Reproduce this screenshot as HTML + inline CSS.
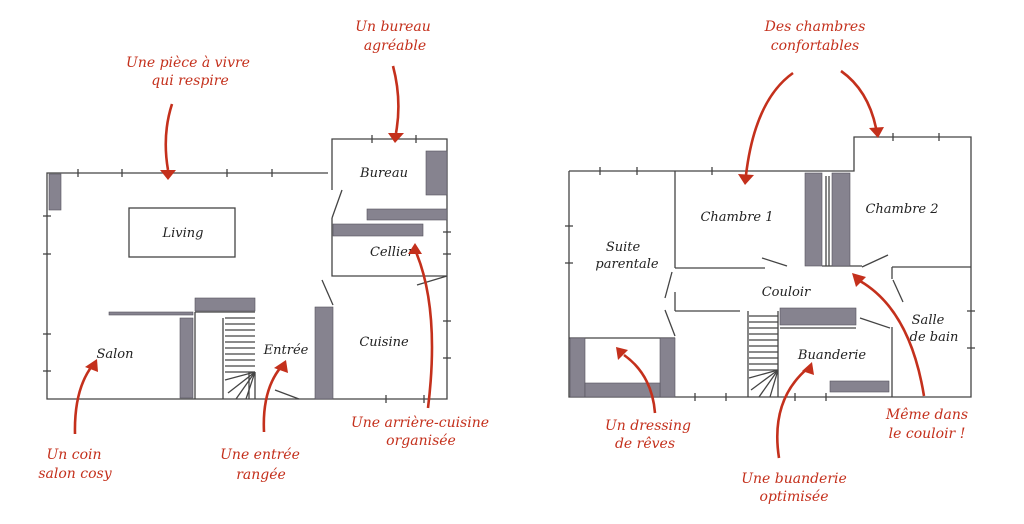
<!DOCTYPE html>
<html><head><meta charset="utf-8"><style>
html,body{margin:0;padding:0;background:#fff;}
svg{display:block;}
.w{stroke:#444;stroke-width:1.3;fill:none;}
.g{fill:#86838f;stroke:#55535c;stroke-width:0.6;}
.r{stroke:#c4301c;stroke-width:2.6;fill:none;}
.ah{fill:#c4301c;}
.lbl{font-family:"DejaVu Serif","Liberation Serif",serif;font-style:italic;font-size:14px;fill:#c4301c;text-anchor:middle;}
.rm{font-family:"DejaVu Serif","Liberation Serif",serif;font-style:italic;font-size:13px;fill:#222;text-anchor:middle;}
</style></head><body>
<svg width="1024" height="524" viewBox="0 0 1024 524" xmlns="http://www.w3.org/2000/svg">
<rect width="1024" height="524" fill="#fff"/>
<!-- LEFT PLAN -->
<g class="w">
<polyline points="328,173 47,173 47,399 447,399 447,139 332,139 332,190"/>
<line x1="342" y1="190" x2="332" y2="218"/>
<polyline points="332,218 332,276 447,276"/>
<line x1="417" y1="285" x2="447" y2="276"/>
<line x1="322" y1="280" x2="333" y2="305"/>
<rect x="129" y="208" width="106" height="49"/>
<line x1="109" y1="314" x2="193" y2="314"/>
<polyline points="195,312 255,312"/>
<line x1="195" y1="312" x2="195" y2="399"/>
<line x1="223" y1="318" x2="223" y2="399"/>
<line x1="255" y1="372" x2="255" y2="399"/>
<line x1="249" y1="372" x2="249" y2="399"/>
<line x1="275" y1="390" x2="299" y2="399"/>
<!-- ticks -->
<line x1="78" y1="169" x2="78" y2="177"/><line x1="122" y1="169" x2="122" y2="177"/>
<line x1="227" y1="169" x2="227" y2="177"/><line x1="272" y1="169" x2="272" y2="177"/>
<line x1="43" y1="216" x2="51" y2="216"/><line x1="43" y1="254" x2="51" y2="254"/>
<line x1="43" y1="334" x2="51" y2="334"/><line x1="43" y1="371" x2="51" y2="371"/>
<line x1="372" y1="135" x2="372" y2="143"/><line x1="416" y1="135" x2="416" y2="143"/>
<line x1="443" y1="232" x2="451" y2="232"/><line x1="443" y1="254" x2="451" y2="254"/>
<line x1="443" y1="321" x2="451" y2="321"/><line x1="443" y1="358" x2="451" y2="358"/>
<line x1="386" y1="395" x2="386" y2="403"/><line x1="424" y1="395" x2="424" y2="403"/>
</g>
<g class="w" stroke-width="1">
<line x1="225" y1="318" x2="255" y2="318"/><line x1="225" y1="324" x2="255" y2="324"/>
<line x1="225" y1="330" x2="255" y2="330"/><line x1="225" y1="336" x2="255" y2="336"/>
<line x1="225" y1="342" x2="255" y2="342"/><line x1="225" y1="348" x2="255" y2="348"/>
<line x1="225" y1="354" x2="255" y2="354"/><line x1="225" y1="360" x2="255" y2="360"/>
<line x1="225" y1="366" x2="255" y2="366"/><line x1="225" y1="372" x2="255" y2="372"/>
<line x1="255" y1="372" x2="225" y2="380"/><line x1="255" y1="372" x2="228" y2="393"/>
<line x1="255" y1="372" x2="236" y2="399"/><line x1="255" y1="372" x2="246" y2="399"/>
</g>
<g class="g">
<rect x="49" y="174" width="12" height="36"/>
<rect x="426" y="151" width="21" height="44"/>
<rect x="367" y="209" width="80" height="11"/>
<rect x="333" y="224" width="90" height="12"/>
<rect x="195" y="298" width="60" height="13"/>
<rect x="180" y="318" width="13" height="80"/>
<rect x="315" y="307" width="18" height="92"/>
<rect x="109" y="312" width="84" height="3"/>
</g>
<text class="rm" x="384" y="177">Bureau</text>
<text class="rm" x="183" y="237">Living</text>
<text class="rm" x="392" y="256">Cellier</text>
<text class="rm" x="115" y="358">Salon</text>
<text class="rm" x="286" y="354">Entrée</text>
<text class="rm" x="384" y="346">Cuisine</text>

<!-- RIGHT PLAN -->
<g class="w">
<polyline points="569,171 854,171 854,137 971,137 971,397 569,397 569,171"/>
<line x1="675" y1="171" x2="675" y2="268"/>
<line x1="675" y1="268" x2="765" y2="268"/>
<line x1="787" y1="266" x2="762" y2="258"/>
<line x1="862" y1="267" x2="888" y2="255"/>
<line x1="822" y1="266" x2="862" y2="266"/>
<line x1="672" y1="272" x2="665" y2="298"/>
<line x1="665" y1="310" x2="675" y2="336"/>
<line x1="675" y1="292" x2="675" y2="311"/>
<line x1="675" y1="311" x2="740" y2="311"/>
<line x1="569" y1="338" x2="675" y2="338"/>
<polyline points="892,267 971,267"/>
<line x1="892" y1="267" x2="892" y2="279"/>
<line x1="893" y1="280" x2="903" y2="302"/>
<line x1="892" y1="327" x2="892" y2="397"/>
<line x1="860" y1="318" x2="890" y2="328"/>
<line x1="780" y1="328" x2="856" y2="328"/>
<line x1="748" y1="311" x2="748" y2="397"/>
<line x1="778" y1="311" x2="778" y2="397"/>
<line x1="600" y1="167" x2="600" y2="175"/><line x1="637" y1="167" x2="637" y2="175"/>
<line x1="712" y1="167" x2="712" y2="175"/>
<line x1="893" y1="133" x2="893" y2="141"/><line x1="939" y1="133" x2="939" y2="141"/>
<line x1="565" y1="226" x2="573" y2="226"/><line x1="565" y1="263" x2="573" y2="263"/>
<line x1="967" y1="311" x2="975" y2="311"/><line x1="967" y1="348" x2="975" y2="348"/>
<line x1="695" y1="393" x2="695" y2="401"/><line x1="726" y1="393" x2="726" y2="401"/>
<line x1="795" y1="393" x2="795" y2="401"/><line x1="826" y1="393" x2="826" y2="401"/>
<line x1="826" y1="176" x2="826" y2="266"/><line x1="829" y1="176" x2="829" y2="266"/>
</g>
<g class="w" stroke-width="1">
<line x1="749" y1="316" x2="778" y2="316"/><line x1="749" y1="322" x2="778" y2="322"/>
<line x1="749" y1="328" x2="778" y2="328"/><line x1="749" y1="334" x2="778" y2="334"/>
<line x1="749" y1="340" x2="778" y2="340"/><line x1="749" y1="346" x2="778" y2="346"/>
<line x1="749" y1="352" x2="778" y2="352"/><line x1="749" y1="358" x2="778" y2="358"/>
<line x1="749" y1="364" x2="778" y2="364"/><line x1="749" y1="370" x2="778" y2="370"/>
<line x1="778" y1="370" x2="749" y2="378"/><line x1="778" y1="370" x2="751" y2="390"/>
<line x1="778" y1="370" x2="759" y2="397"/><line x1="778" y1="370" x2="770" y2="397"/>
</g>
<g class="g">
<rect x="805" y="173" width="17" height="93"/>
<rect x="832" y="173" width="18" height="93"/>
<rect x="780" y="308" width="76" height="17"/>
<rect x="830" y="381" width="59" height="11"/>
<rect x="570" y="338" width="15" height="59"/>
<rect x="660" y="338" width="15" height="59"/>
<rect x="585" y="383" width="75" height="14"/>
</g>
<text class="rm" x="737" y="221">Chambre 1</text>
<text class="rm" x="902" y="213">Chambre 2</text>
<text class="rm" x="623" y="251">Suite</text>
<text class="rm" x="627" y="268">parentale</text>
<text class="rm" x="786" y="296">Couloir</text>
<text class="rm" x="928" y="324">Salle</text>
<text class="rm" x="934" y="341">de bain</text>
<text class="rm" x="832" y="359">Buanderie</text>

<!-- ARROWS -->
<g class="r">
<path d="M172,104 Q162,135 168,170"/>
<path d="M393,66 Q402,100 396,133"/>
<path d="M75,434 Q74,390 92,366"/>
<path d="M264,432 Q262,390 281,367"/>
<path d="M428,408 Q440,310 416,252"/>
<path d="M793,73 Q755,100 746,175"/>
<path d="M841,71 Q868,90 876,128"/>
<path d="M655,413 Q652,375 624,355"/>
<path d="M779,458 Q770,400 808,368"/>
<path d="M924,396 Q910,310 860,281"/>
</g>
<g class="ah">
<polygon points="160,170 176,170 168,180"/>
<polygon points="388,133 404,133 395,143"/>
<polygon points="85,367 97,359 98,372"/>
<polygon points="274,368 286,360 288,373"/>
<polygon points="408,254 422,254 415,243"/>
<polygon points="738,174 754,175 745,185"/>
<polygon points="869,128 884,127 878,138"/>
<polygon points="618,360 628,350 616,347"/>
<polygon points="802,371 812,362 814,375"/>
<polygon points="856,287 866,277 852,273"/>
</g>
<!-- LABELS -->
<text class="lbl" x="188" y="67">Une pièce à vivre</text>
<text class="lbl" x="190" y="85">qui respire</text>
<text class="lbl" x="393" y="31">Un bureau</text>
<text class="lbl" x="395" y="50">agréable</text>
<text class="lbl" x="74" y="459">Un coin</text>
<text class="lbl" x="75" y="478">salon cosy</text>
<text class="lbl" x="260" y="459">Une entrée</text>
<text class="lbl" x="261" y="479">rangée</text>
<text class="lbl" x="420" y="427">Une arrière-cuisine</text>
<text class="lbl" x="421" y="445">organisée</text>
<text class="lbl" x="815" y="31">Des chambres</text>
<text class="lbl" x="815" y="50">confortables</text>
<text class="lbl" x="648" y="430">Un dressing</text>
<text class="lbl" x="645" y="448">de rêves</text>
<text class="lbl" x="794" y="483">Une buanderie</text>
<text class="lbl" x="794" y="501">optimisée</text>
<text class="lbl" x="927" y="419">Même dans</text>
<text class="lbl" x="927" y="438">le couloir !</text>
</svg>
</body></html>
